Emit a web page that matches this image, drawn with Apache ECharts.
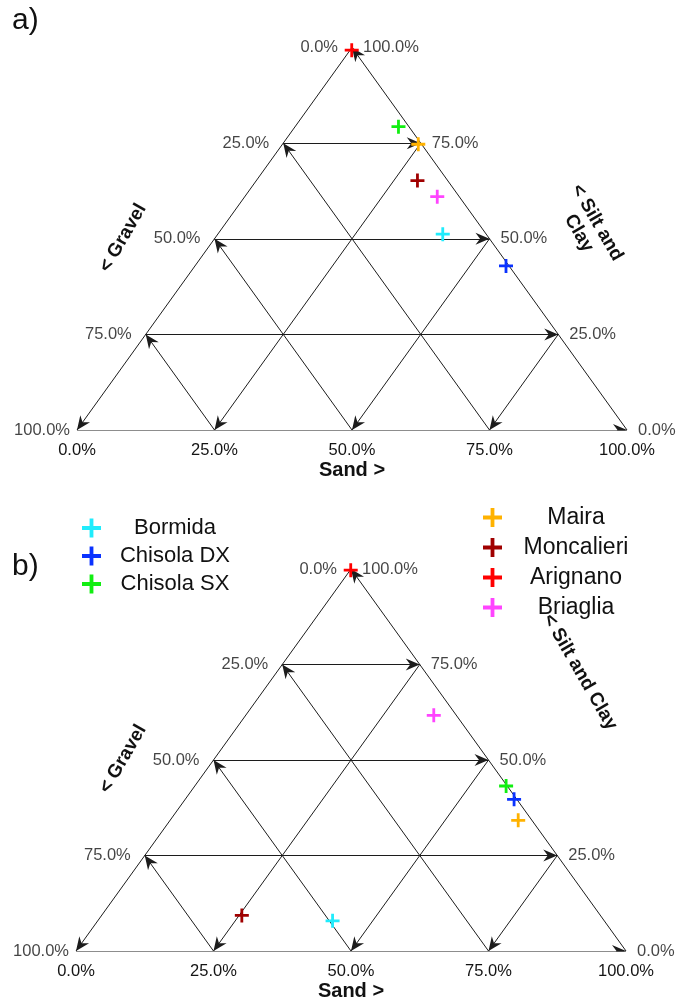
<!DOCTYPE html>
<html><head><meta charset="utf-8">
<script src="https://cdn.jsdelivr.net/npm/echarts@6/dist/echarts.min.js"></script>
<style>html,body{margin:0;padding:0;background:#fff}#c{width:676px;height:1002px}</style>
</head><body><div id="c"></div>
<script>
// ---- data ----
const sites = ['Bormida','Chisola DX','Chisola SX','Maira','Moncalieri','Arignano','Briaglia'];
const colors = ['#20ecfc','#0a32ff','#11ee11','#ffb200','#a00000','#ff0000','#ff44ff'];
// panel a)
const gravelA   = [7.9, 0.55, 1.9, 0.6, 5.5, 0.4, 4.0];
const sandA     = [40.9, 56.55, 18.8, 24.7, 29.3, 0.3, 35.0];
const siltClayA = [51.2, 42.9, 79.3, 74.7, 65.2, 99.3, 61.0];
// panel b)
const gravelB   = [49.4, 0.5, 0.2, 2.5, 65.2, 0.2, 4.1];
const sandB     = [42.7, 59.8, 56.6, 63.3, 25.5, 0.1, 34.2];
const siltClayB = [7.9, 39.7, 43.2, 34.2, 9.3, 99.7, 61.7];
// ticks
const ticks = [0, 25, 50, 75, 100];
const tickLabels = ['0.0%', '25.0%', '50.0%', '75.0%', '100.0%'];
const legendLeft = ['Bormida','Chisola DX','Chisola SX'];
const legendRight = ['Maira','Moncalieri','Arignano','Briaglia'];

// ---- helpers ----
const FONT = 'Liberation Sans, Arial, sans-serif';
const TXT = '#141414';
const plus = 'path://M4,0H6V4H10V6H6V10H4V6H0V4H4Z';
const arrow = 'path://M0,-14L0.01,-14L0,-13.99Z M0,0L6,14L0,9.5L-6,14Z';
function tern(sand, silt) { return [sand + silt / 2, silt]; }
function lbl(v) { return tickLabels[ticks.indexOf(v)]; }

const grids = [
  {left: 77, top: 47.5, width: 550, height: 382.5},
  {left: 76, top: 569, width: 550, height: 384}
];
const panels = [
  {sand: sandA, silt: siltClayA, gravel: gravelA},
  {sand: sandB, silt: siltClayB, gravel: gravelB}
];

const xAxis = [], yAxis = [], series = [];
grids.forEach((g, gi) => {
  xAxis.push({
    gridIndex: gi, type: 'value', min: 0, max: 100, interval: 25,
    axisLine: {show: false}, axisTick: {show: false}, splitLine: {show: false},
    axisLabel: {formatter: v => lbl(v), fontFamily: FONT, fontSize: 16.5, color: TXT, margin: 12,
      showMinLabel: true, showMaxLabel: true},
    name: 'Sand >', nameLocation: 'middle', nameGap: 30,
    nameTextStyle: {fontFamily: FONT, fontSize: 20, fontWeight: 'bold', color: '#111'}
  });
  yAxis.push({gridIndex: gi, type: 'value', min: 0, max: 100, show: false});

  // grid lines with arrows
  const lineData = [];
  ticks.forEach(t => {
    if (t < 100) {
      lineData.push({coords: [tern(0, t), tern(100 - t, t)]});       // constant silt & clay
      lineData.push({coords: [tern(100 - t, 0), tern(0, 100 - t)]}); // constant gravel
      lineData.push({coords: [tern(t, 100 - t), tern(t, 0)]});       // constant sand
    }
  });
  series.push({
    type: 'lines', coordinateSystem: 'cartesian2d', xAxisIndex: gi, yAxisIndex: gi,
    data: lineData, symbol: ['none', arrow], symbolSize: [[12, 28], [12, 28]],
    lineStyle: {color: '#1c1c1c', width: 1, opacity: 1}, silent: true, z: 2
  });

  // left edge tick labels (gravel)
  series.push({
    type: 'scatter', xAxisIndex: gi, yAxisIndex: gi, symbolSize: 0, silent: true,
    data: ticks.map(t => ({value: tern(0, 100 - t), name: lbl(t),
      label: t === 100 ? {distance: 7} : undefined})),
    label: {show: true, position: 'left', distance: 14, formatter: '{b}',
      fontFamily: FONT, fontSize: 16.5, color: TXT}
  });
  // right edge tick labels (silt and clay)
  series.push({
    type: 'scatter', xAxisIndex: gi, yAxisIndex: gi, symbolSize: 0, silent: true,
    data: ticks.map(t => ({value: tern(100 - t, t), name: lbl(t)})),
    label: {show: true, position: 'right', distance: 11, formatter: '{b}',
      fontFamily: FONT, fontSize: 16.5, color: TXT}
  });

  // sample points
  const p = panels[gi];
  sites.forEach((s, i) => {
    series.push({
      name: s, type: 'scatter', xAxisIndex: gi, yAxisIndex: gi,
      symbol: plus, symbolSize: 14, z: 5,
      itemStyle: {color: colors[i], opacity: 1},
      data: [tern(p.sand[i], p.silt[i])]
    });
  });
});

function legendOf(names, left, top, gap, fs) {
  return {
    data: names, left: left, top: top, itemGap: gap,
    orient: 'vertical', icon: plus, itemWidth: 19, itemHeight: 19,
    formatter: '{c|{name}}', selectedMode: false,
    textStyle: {fontFamily: FONT, color: '#111',
      rich: {c: {width: 138, align: 'center', fontSize: fs, lineHeight: 24, fontFamily: FONT, color: '#111'}}}
  };
}

const rad = 60 * Math.PI / 180;
const titleStyle = {fontFamily: FONT, fontSize: 19, fontWeight: 'bold', fill: '#111', align: 'center', verticalAlign: 'middle'};
const chart = echarts.init(document.getElementById('c'));
chart.setOption({
  backgroundColor: '#fff',
  animation: false,
  color: colors,
  grid: grids,
  xAxis, yAxis, series,
  legend: [
    legendOf(legendLeft, 77, 512, 6, 22),
    legendOf(legendRight, 478, 501, 7, 23)
  ],
  graphic: [
    {type: 'text', left: 12, top: 6, style: {text: 'a)', fontFamily: FONT, fontSize: 30, fill: '#111'}},
    {type: 'text', left: 12, top: 552, style: {text: 'b)', fontFamily: FONT, fontSize: 30, fill: '#111'}},
    {type: 'text', x: 123, y: 238, rotation: rad, style: Object.assign({text: '< Gravel'}, titleStyle)},
    {type: 'text', x: 123, y: 759, rotation: rad, style: Object.assign({text: '< Gravel'}, titleStyle)},
    {type: 'text', x: 588, y: 228, rotation: -rad, style: Object.assign({text: '< Silt and\nClay', lineHeight: 21}, titleStyle)},
    {type: 'text', x: 580, y: 672, rotation: -rad, style: Object.assign({text: '< Silt and Clay'}, titleStyle)}
  ]
});
</script></body></html>
